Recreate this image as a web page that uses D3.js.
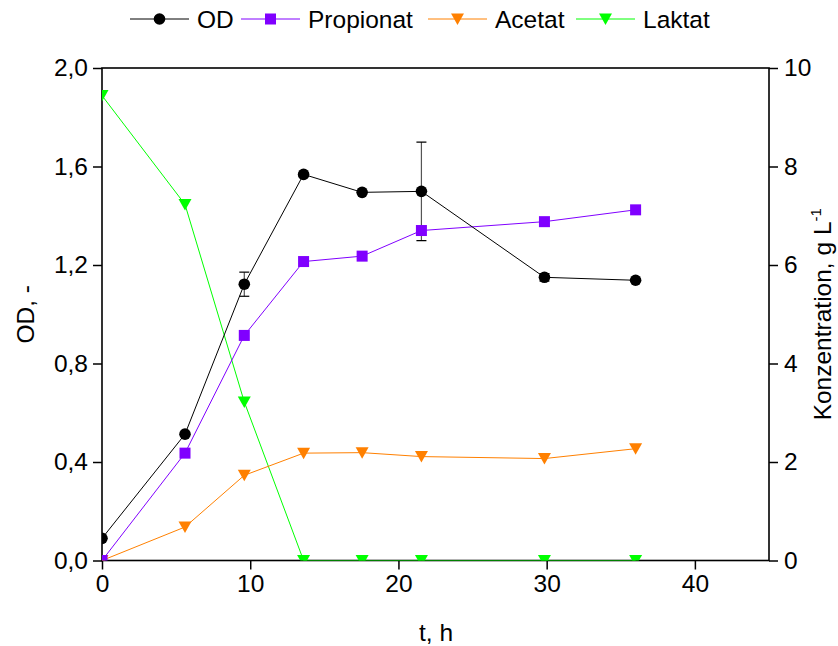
<!DOCTYPE html>
<html><head><meta charset="utf-8">
<script src="https://cdn.jsdelivr.net/npm/d3@7"></script>
<style>body{margin:0;background:#fff}svg{display:block}text{font-family:"Liberation Sans",Arial,sans-serif}</style>
</head><body><svg id="c" width="838" height="646"></svg>
<script>
const time = [0, 5.6, 9.6, 13.6, 17.55, 21.55, 29.85, 36];
const od = [0.09, 0.513, 1.122, 1.568, 1.495, 1.499, 1.15, 1.138];
const odErr = [0, 0, 0.049, 0, 0, 0.2, 0.015, 0];
const propionat = [0, 2.18, 4.57, 6.07, 6.18, 6.7, 6.88, 7.12];
const acetat = [0, 0.68, 1.73, 2.18, 2.19, 2.11, 2.07, 2.27];
const laktat = [9.44, 7.23, 3.22, 0, 0, 0, 0, 0];
const xTicks = [0, 10, 20, 30, 40];
const yLeftTicks = [0, 0.4, 0.8, 1.2, 1.6, 2.0];
const yRightTicks = [0, 2, 4, 6, 8, 10];

const svg = d3.select("#c");
const L = 102, R = 769, T = 68, B = 560.5;
const x = d3.scaleLinear().domain([0, 45]).range([L, R]);
const yL = d3.scaleLinear().domain([0, 2]).range([B, T]);
const yR = d3.scaleLinear().domain([0, 10]).range([B, T]);
const FS = 24.5;

svg.append("defs").append("clipPath").attr("id","clip").append("rect")
  .attr("x", L).attr("y", T).attr("width", R-L).attr("height", B-T);

const fmt = d => d3.format(".1f")(d).replace(".", ",");

// axes
const gx = svg.append("g").attr("transform", `translate(0,${B})`);
gx.call(d3.axisBottom(x).tickValues(d3.range(5, 45, 10)).tickSize(5).tickFormat(""));
gx.call(d3.axisBottom(x).tickValues(xTicks).tickSize(9).tickPadding(5).tickFormat(d3.format("d")));
const gl = svg.append("g").attr("transform", `translate(${L},0)`);
gl.call(d3.axisLeft(yL).tickValues(d3.range(0.2, 2, 0.4)).tickSize(5).tickFormat(""));
gl.call(d3.axisLeft(yL).tickValues(yLeftTicks).tickSize(9).tickPadding(5).tickFormat(fmt));
const gr = svg.append("g").attr("transform", `translate(${R},0)`);
gr.call(d3.axisRight(yR).tickValues(d3.range(1, 10, 2)).tickSize(5).tickFormat(""));
gr.call(d3.axisRight(yR).tickValues(yRightTicks).tickSize(9).tickPadding(6).tickFormat(d3.format("d")));
svg.selectAll(".domain").remove();
svg.selectAll(".tick line").attr("stroke", "#000").attr("stroke-width", 1.5);
svg.selectAll(".tick text").attr("font-size", FS).attr("fill", "#000").attr("font-family", "Liberation Sans, Arial, sans-serif");
// frame
svg.append("rect").attr("x", L).attr("y", T).attr("width", R-L).attr("height", B-T)
  .attr("fill", "none").attr("stroke", "#000").attr("stroke-width", 1.6);

// titles
svg.append("text").attr("x", 436).attr("y", 641).attr("text-anchor", "middle").attr("font-size", FS).text("t, h");
svg.append("text").attr("transform", `translate(34,${(T+B)/2}) rotate(-90)`).attr("text-anchor", "middle").attr("font-size", FS).text("OD, -");
const rt = svg.append("text").attr("transform", `translate(831,${(T+B)/2}) rotate(-90)`).attr("text-anchor", "middle").attr("font-size", FS);
rt.append("tspan").text("Konzentration, g L");
rt.append("tspan").attr("dy", -10).attr("font-size", 15).text("-1");

const plot = svg.append("g").attr("clip-path", "url(#clip)");

function symbol(g, type, color, cx, cy) {
  if (type === "circle") g.append("circle").attr("cx", cx).attr("cy", cy).attr("r", 5.8).attr("fill", color);
  else if (type === "square") g.append("rect").attr("x", cx-5.5).attr("y", cy-5.5).attr("width", 11).attr("height", 11).attr("fill", color);
  else g.append("path").attr("d", `M${cx-6.5},${cy-5.5}L${cx+6.5},${cy-5.5}L${cx},${cy+6}Z`).attr("fill", color);
}

const series = [
  {name: "OD", vals: od, y: yL, color: "#000000", line: "#000000", sym: "circle"},
  {name: "Propionat", vals: propionat, y: yR, color: "#8000ff", line: "#8000ff", sym: "square"},
  {name: "Acetat", vals: acetat, y: yR, color: "#ff8000", line: "#ff8000", sym: "tri"},
  {name: "Laktat", vals: laktat, y: yR, color: "#00ff00", line: "#00ff00", sym: "tri"}
];

// error bars (OD)
odErr.forEach((e, i) => {
  if (!e) return;
  const cx = x(time[i]);
  plot.append("line").attr("x1", cx).attr("x2", cx).attr("y1", yL(od[i]-e)).attr("y2", yL(od[i]+e)).attr("stroke", "#555").attr("stroke-width", 1.2);
  [od[i]-e, od[i]+e].forEach(v => plot.append("line").attr("x1", cx-5).attr("x2", cx+5).attr("y1", yL(v)).attr("y2", yL(v)).attr("stroke", "#000").attr("stroke-width", 1.2));
});

// draw in reverse so OD on top
series.slice().reverse().forEach(s => {
  const line = d3.line().x((d, i) => x(time[i])).y(d => s.y(d));
  plot.append("path").attr("d", line(s.vals)).attr("fill", "none").attr("stroke", s.line).attr("stroke-width", 1);
  s.vals.forEach((v, i) => symbol(plot, s.sym, s.color, x(time[i]), s.y(v)));
});

// legend
const legX = [130, 241, 428, 576];
series.forEach((s, k) => {
  const g = svg.append("g");
  const x0 = legX[k], yy = 19;
  g.append("line").attr("x1", x0).attr("x2", x0+59).attr("y1", yy).attr("y2", yy).attr("stroke", s.line).attr("stroke-width", 1);
  symbol(g, s.sym, s.color, x0+29.5, yy);
  g.append("text").attr("x", x0+67).attr("y", yy+8.5).attr("font-size", FS).text(s.name);
});
</script></body></html>
